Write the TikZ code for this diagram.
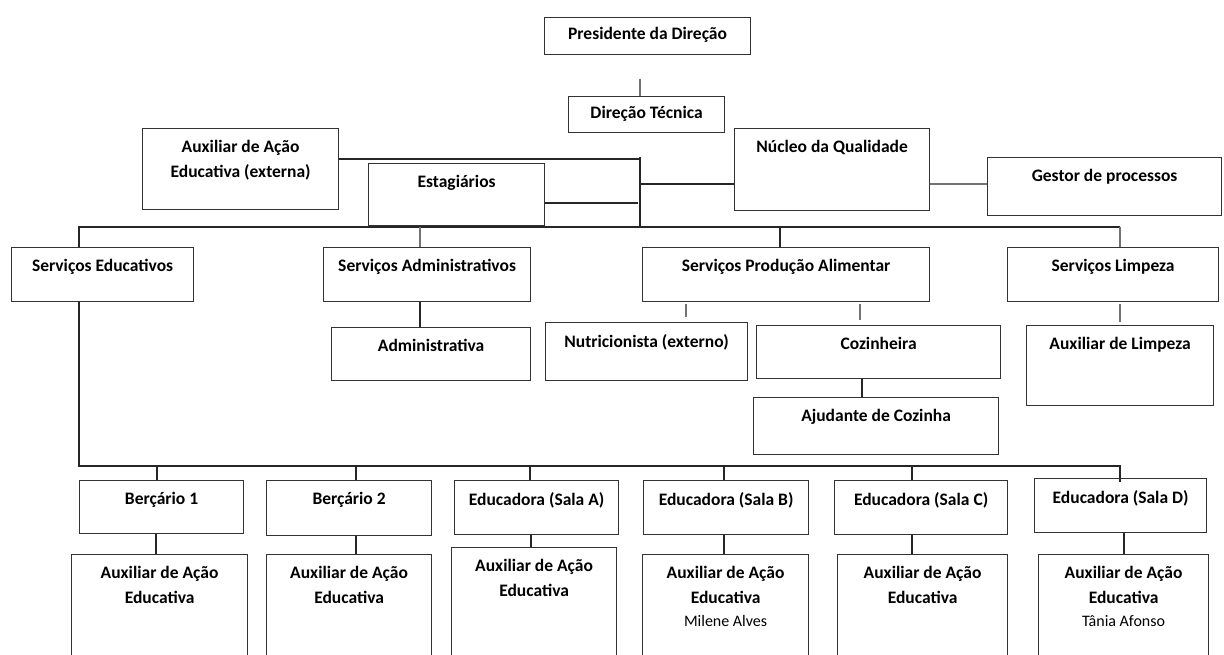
\documentclass[tikz,border=0pt]{standalone}
\usepackage{fontspec}
\setmainfont{Carlito}
\usetikzlibrary{positioning}
\tikzset{
  orgbox/.style={draw=black!80, line width=1.2pt, anchor=north west, inner sep=0pt},
  boxtext/.style={anchor=north, inner sep=0pt, yshift=-12pt, align=center,
                  font=\fontsize{17.5}{25}\selectfont\bfseries},
  link/.style={draw=black!85, line width=1.2pt},
  stub/.style={draw=black!55, line width=1.2pt},
}
\newcommand{\staffname}[1]{{\fontsize{16}{22}\selectfont\mdseries #1}}

\begin{document}
\begin{tikzpicture}[x=1pt, y=-1pt]
  \useasboundingbox (0,0) rectangle (1224,655);
  \clip (0,0) rectangle (1224,655);

  % top of the chart
  \node[orgbox, minimum width=206, minimum height=37, label={[boxtext, yshift=2pt]north:Presidente da Direção}] (pres) at (544,17) {};
  \node[orgbox, minimum width=156, minimum height=36, label={[boxtext, yshift=2pt]north:Direção Técnica}] (dirt) at (568,96) {};
  \node[orgbox, minimum width=196, minimum height=81, label={[boxtext]north:Auxiliar de Ação\\Educativa (externa)}] (auxext) at (142,128) {};
  \node[orgbox, minimum width=176, minimum height=62, label={[boxtext]north:Estagiários}] (estag) at (368,163) {};
  \node[orgbox, minimum width=195, minimum height=82, label={[boxtext]north:Núcleo da Qualidade}] (nucleo) at (734,128) {};
  \node[orgbox, minimum width=234, minimum height=58, label={[boxtext]north:Gestor de processos}] (gestor) at (987,157) {};

  % services
  \node[orgbox, minimum width=182, minimum height=54, label={[boxtext]north:Serviços Educativos}] (serveduc) at (11,247) {};
  \node[orgbox, minimum width=207, minimum height=54, label={[boxtext]north:Serviços Administrativos}] (servadm) at (323,247) {};
  \node[orgbox, minimum width=287, minimum height=54, label={[boxtext]north:Serviços Produção Alimentar}] (servprod) at (642,247) {};
  \node[orgbox, minimum width=211, minimum height=54, label={[boxtext]north:Serviços Limpeza}] (servlimp) at (1007,247) {};

  \node[orgbox, minimum width=199, minimum height=53, label={[boxtext]north:Administrativa}] (admin) at (331,327) {};
  \node[orgbox, minimum width=202, minimum height=58, label={[boxtext]north:Nutricionista (externo)}] (nutri) at (545,322) {};
  \node[orgbox, minimum width=244, minimum height=53, label={[boxtext]north:Cozinheira}] (cozi) at (756,325) {};
  \node[orgbox, minimum width=245, minimum height=57, label={[boxtext]north:Ajudante de Cozinha}] (ajud) at (753,397) {};
  \node[orgbox, minimum width=187, minimum height=80, label={[boxtext]north:Auxiliar de Limpeza}] (auxlimp) at (1026,325) {};

  % rooms
  \node[orgbox, minimum width=164, minimum height=53, label={[boxtext]north:Berçário 1}] (berc1) at (79,480) {};
  \node[orgbox, minimum width=165, minimum height=55, label={[boxtext]north:Berçário 2}] (berc2) at (266,480) {};
  \node[orgbox, minimum width=164, minimum height=54, label={[boxtext]north:Educadora (Sala A)}] (educA) at (454,480) {};
  \node[orgbox, minimum width=165, minimum height=54, label={[boxtext]north:Educadora (Sala B)}] (educB) at (643,480) {};
  \node[orgbox, minimum width=173, minimum height=54, label={[boxtext]north:Educadora (Sala C)}] (educC) at (834,480) {};
  \node[orgbox, minimum width=172, minimum height=54, label={[boxtext]north:Educadora (Sala D)}] (educD) at (1034,478) {};

  \node[orgbox, minimum width=176, minimum height=140, label={[boxtext]north:Auxiliar de Ação\\Educativa}] (aux1) at (71,554) {};
  \node[orgbox, minimum width=165, minimum height=140, label={[boxtext]north:Auxiliar de Ação\\Educativa}] (aux2) at (266,554) {};
  \node[orgbox, minimum width=165, minimum height=147, label={[boxtext]north:Auxiliar de Ação\\Educativa}] (auxA) at (451,547) {};
  \node[orgbox, minimum width=166, minimum height=140, label={[boxtext]north:Auxiliar de Ação\\Educativa\\[-2pt]\staffname{Milene Alves}}] (auxB) at (642,554) {};
  \node[orgbox, minimum width=170, minimum height=140, label={[boxtext]north:Auxiliar de Ação\\Educativa}] (auxC) at (837,554) {};
  \node[orgbox, minimum width=170, minimum height=140, label={[boxtext]north:Auxiliar de Ação\\Educativa\\[-2pt]\staffname{Tânia Afonso}}] (auxD) at (1038,554) {};

  % connectors
  \coordinate (sP) at (640,79);
  \coordinate (trunktop) at (640,157);
  \coordinate (bus) at (640,227);
  \coordinate (hA) at (640,159);
  \coordinate (hB) at (638,203);
  \coordinate (hC) at (640,184);
  \draw[stub] (sP) -- (sP |- dirt.north);
  \draw[link] (hA -| auxext.east) -- (hA);
  \draw[link] (trunktop) -- (bus);
  \draw[link] (hB -| estag.east) -- (hB);
  \draw[link] (hC) -- (hC -| nucleo.west);
  \draw[stub] (hC -| nucleo.east) -- (hC -| gestor.west);

  \coordinate (dEdu) at (79,227);
  \coordinate (dAdm) at (420,227);
  \coordinate (dProd) at (780,227);
  \coordinate (dLimp) at (1120,227);
  \draw[link] (dEdu |- serveduc.north) -- (dEdu) -- (dLimp);
  \draw[stub] (dLimp) -- (dLimp |- servlimp.north);
  \draw[stub] (dAdm) -- (dAdm |- servadm.north);
  \draw[link] (dProd) -- (dProd |- servprod.north);

  \draw[link] (dAdm |- servadm.south) -- (dAdm |- admin.north);
  \draw[stub, shorten <=2pt, shorten >=5pt] (686,0 |- servprod.south) -- (686,0 |- nutri.north);
  \draw[stub, shorten <=2pt, shorten >=5pt] (860,0 |- servprod.south) -- (860,0 |- cozi.north);
  \draw[stub, shorten <=2pt, shorten >=3pt] (dLimp |- servlimp.south) -- (dLimp |- auxlimp.north);
  \draw[link] (862,0 |- cozi.south) -- (862,0 |- ajud.north);

  \coordinate (eL) at (79,466);
  \coordinate (eR) at (1120,466);
  \draw[link] (dEdu |- serveduc.south) -- (eL) -- (eR) -- ([yshift=-4pt]eR |- educD.north);
  \foreach \x/\n in {157/berc1, 356/berc2, 530/educA, 724/educB, 912/educC}
    \draw[link] (\x,466) -- (\x,466 |- \n.north);
  \foreach \x/\a/\b in {156/berc1/aux1, 356/berc2/aux2, 531/educA/auxA, 724/educB/auxB, 912/educC/auxC, 1124/educD/auxD}
    \draw[link] (\x,0 |- \a.south) -- (\x,0 |- \b.north);
\end{tikzpicture}
\end{document}
